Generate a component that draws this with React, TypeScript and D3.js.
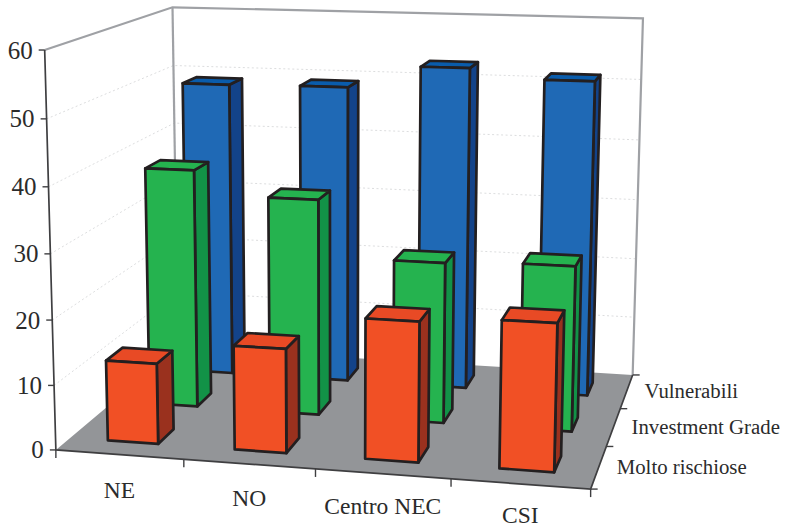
import React from "react";
import * as d3 from "d3";

const categories = ["NE", "NO", "Centro NEC", "CSI"];
const seriesNames = ["Molto rischiose", "Investment Grade", "Vulnerabili"];
const moltoRischiose = [12.5, 16, 21.3, 22.2];
const investmentGrade = [38.3, 34.5, 25.5, 26];
const vulnerabili = [49, 49.2, 52.9, 51.4];
const yTicks = [0, 10, 20, 30, 40, 50, 60];

const WIDTH = 786;
const HEIGHT = 529;

const faceColours = [
  { front: "#f15025", top: "#e84a25", side: "#9a311e" },
  { front: "#25b34f", top: "#25b34f", side: "#129247" },
  { front: "#1f69b5", top: "#0a5cab", side: "#134389" },
];

type V3 = [number, number, number];
type V2 = [number, number];

// Reference points tying the chart's (category, value, depth) space to the page.
const anchors: [V3, V2][] = [
  [[0, 0, 0], [57, 449]],
  [[0, 60, 0], [44, 50]],
  [[1, 0, 0], [184, 459]],
  [[2, 0, 0], [315, 469]],
  [[3, 0, 0], [451, 480]],
  [[4, 0, 0], [590, 490]],
  [[4, 0, 1], [607, 447]],
  [[4, 0, 2], [620, 408]],
  [[4, 0, 3], [633, 373]],
  [[4, 60, 3], [643, 19]],
  [[0, 60, 3], [173, 7]],
  [[0, 0, 3], [177, 349]],
  [[0, 30, 0], [50.5, 253]],
];

// Least squares for a 3x4 camera matrix with its last term fixed at 1.
function solveCamera(points: [V3, V2][]) {
  const rows: number[][] = [];
  const rhs: number[] = [];
  for (const [[x, y, z], [u0, v0]] of points) {
    const X = x / 4, Y = y / 60, Z = z / 3, u = u0 / 500, v = v0 / 500;
    rows.push([X, Y, Z, 1, 0, 0, 0, 0, -u * X, -u * Y, -u * Z]);
    rhs.push(u);
    rows.push([0, 0, 0, 0, X, Y, Z, 1, -v * X, -v * Y, -v * Z]);
    rhs.push(v);
  }
  const n = 11;
  const m = d3.range(n).map((i) =>
    d3.range(n + 1).map((j) =>
      j < n ? d3.sum(rows, (r) => r[i] * r[j]) : d3.sum(rows, (r, k) => r[i] * rhs[k])
    )
  );
  for (let c = 0; c < n; c++) {
    let p = c;
    for (let r = c + 1; r < n; r++) if (Math.abs(m[r][c]) > Math.abs(m[p][c])) p = r;
    [m[c], m[p]] = [m[p], m[c]];
    for (let r = 0; r < n; r++) {
      if (r === c) continue;
      const f = m[r][c] / m[c][c];
      for (let j = c; j <= n; j++) m[r][j] -= f * m[c][j];
    }
  }
  return d3.range(n).map((i) => m[i][n] / m[i][i]);
}

const cam = solveCamera(anchors);

function project(x: number, y: number, z: number): V2 {
  const X = x / 4, Y = y / 60, Z = z / 3;
  const w = cam[8] * X + cam[9] * Y + cam[10] * Z + 1;
  return [
    (500 * (cam[0] * X + cam[1] * Y + cam[2] * Z + cam[3])) / w,
    (500 * (cam[4] * X + cam[5] * Y + cam[6] * Z + cam[7])) / w,
  ];
}

const xBand = d3.scaleBand<string>().domain(categories).range([0, 4]).paddingInner(0.6).paddingOuter(0.3);
const zBand = d3.scaleBand<string>().domain(seriesNames).range([0, 3]).paddingInner(0.62).paddingOuter(0.31);

const path = (pts: V2[], close = true) =>
  "M" + pts.map((p) => p.map((n) => n.toFixed(2)).join(",")).join("L") + (close ? "Z" : "");

const FONT = "'Liberation Serif', serif";
const INK = "#231f20";
const WALL = "#9fa1a5";
const TEXT = "#2b2b2b";

function Bar({ cat, series, value }: { cat: string; series: string; value: number }) {
  const x0 = xBand(cat)!, x1 = x0 + xBand.bandwidth();
  const z0 = zBand(series)!, z1 = z0 + zBand.bandwidth();
  const c = faceColours[seriesNames.indexOf(series)];
  const stroke = { stroke: INK, strokeWidth: 2.7, strokeLinejoin: "round" as const };
  return (
    <g>
      <path d={path([project(x1, 0, z0), project(x1, 0, z1), project(x1, value, z1), project(x1, value, z0)])} fill={c.side} {...stroke} />
      <path d={path([project(x0, value, z0), project(x1, value, z0), project(x1, value, z1), project(x0, value, z1)])} fill={c.top} {...stroke} />
      <path d={path([project(x0, 0, z0), project(x1, 0, z0), project(x1, value, z0), project(x0, value, z0)])} fill={c.front} {...stroke} />
    </g>
  );
}

export default function App() {
  const seriesValues = [moltoRischiose, investmentGrade, vulnerabili];
  return (
    <svg width={WIDTH} height={HEIGHT} style={{ position: "absolute", left: 0, top: 0, display: "block" }} fontFamily={FONT} fill={INK}>
      <rect width={WIDTH} height={HEIGHT} fill="#fff" />
      {/* floor */}
      <path d={path([project(0, 0, 0), project(4, 0, 0), project(4, 0, 3), project(0, 0, 3)])} fill="#939598" />
      {/* gridlines on the two walls */}
      {yTicks.slice(1, -1).map((t) => (
        <path
          key={t}
          d={path([project(0, t, 0), project(0, t, 3), project(4, t, 3)], false)}
          fill="none"
          stroke="#d3d4d6"
          strokeWidth={0.8}
          strokeDasharray="2 2.5"
        />
      ))}
      {/* wall edges */}
      <path
        d={path([project(0, 60, 0), project(0, 60, 3), project(4, 60, 3), project(4, 0, 3)], false)}
        fill="none"
        stroke={WALL}
        strokeWidth={2.2}
      />
      <path d={path([project(0, 60, 3), project(0, 0, 3)], false)} fill="none" stroke={WALL} strokeWidth={2.2} />
      {/* bars, furthest row first */}
      {[2, 1, 0].map((s) =>
        categories.map((cat, i) => (
          <Bar key={cat + s} cat={cat} series={seriesNames[s]} value={seriesValues[s][i]} />
        ))
      )}
      {/* axes */}
      <path
        d={path([project(0, 60, 0), project(0, 0, 0), project(4, 0, 0), project(4, 0, 3)], false)}
        fill="none"
        stroke="#3f3f41"
        strokeWidth={1.7}
      />
      {yTicks.map((t) => {
        const [px, py] = project(0, t, 0);
        return (
          <g key={t}>
            <line x1={px - 6} x2={px} y1={py} y2={py} stroke="#3f3f41" strokeWidth={1.4} />
            <text x={px - 12} y={py + 8.5} textAnchor="end" fontSize={25} fill={TEXT}>
              {t}
            </text>
          </g>
        );
      })}
      {d3.range(5).map((i) => {
        const [px, py] = project(i, 0, 0);
        return <line key={i} x1={px} x2={px} y1={py} y2={py + 8} stroke="#3f3f41" strokeWidth={1.4} />;
      })}
      {d3.range(4).map((i) => {
        const [px, py] = project(4, 0, i);
        return <line key={i} x1={px} x2={px + 7} y1={py} y2={py} stroke="#3f3f41" strokeWidth={1.4} />;
      })}
      {categories.map((cat, i) => {
        const [px, py] = project(i + 0.5, 0, 0);
        return (
          <text key={cat} x={px} y={py + 43 - i * 1.4} textAnchor="middle" fontSize={23.5} fill={TEXT}>
            {cat}
          </text>
        );
      })}
      {seriesNames.map((name, s) => {
        const [px, py] = project(4, 0, s + 0.5);
        return (
          <text key={name} x={px + 18} y={py + 7} fontSize={20.8} fill={TEXT}>
            {name}
          </text>
        );
      })}
    </svg>
  );
}
